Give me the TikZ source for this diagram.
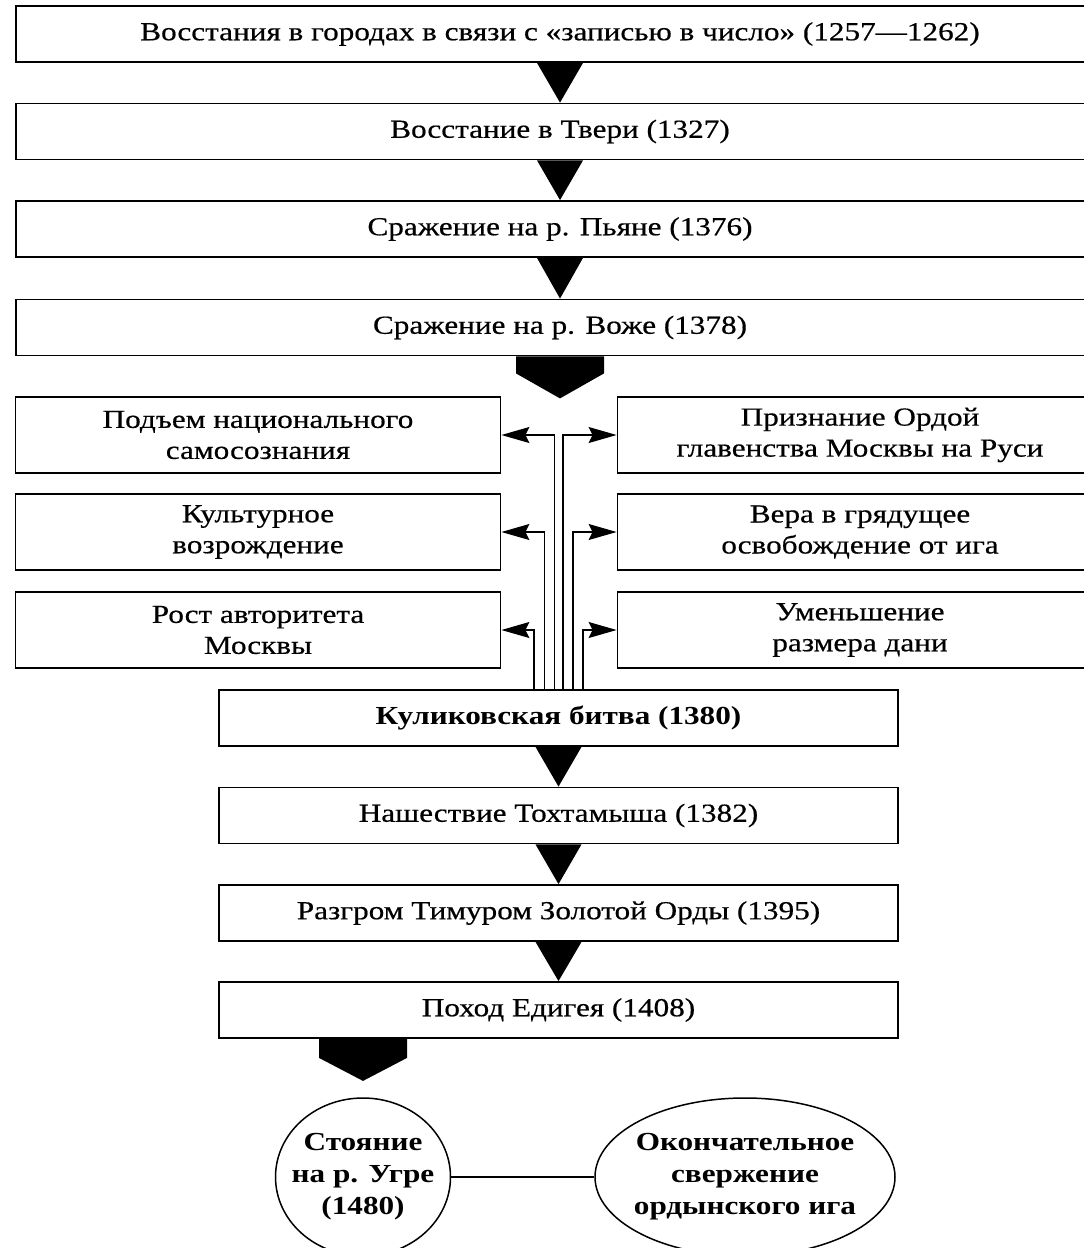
\documentclass[tikz,border=0pt]{standalone}
\usepackage{fontspec}
\setmainfont[FakeStretch=1.2,UprightFeatures={FakeBold=0.5}]{Liberation Serif}
\usetikzlibrary{arrows.meta,shapes.geometric}

\begin{document}
\begin{tikzpicture}[x=1pt,y=-1pt,font=\fontsize{26}{31}\selectfont,
  event/.style={draw,line width=1.8pt,inner sep=0pt,minimum height=56pt,align=center},
  wide/.style={event,minimum width=1088pt},
  mid/.style={event,minimum width=679pt},
  side/.style={event,minimum width=485pt,minimum height=76pt},
  oval/.style={draw,ellipse,line width=1.5pt,inner ysep=0pt,inner xsep=-12pt,minimum height=158pt,align=center,
    font=\fontsize{26}{32}\selectfont\bfseries},
  link/.style={line width=1.3pt,-{Stealth[length=28pt,width=16pt,inset=4pt]}}]

\clip (0,0) rectangle (1084,1248);

% chain of events up to 1378
\node[wide] (zapis) at (560,34) {Восстания в городах в связи с «записью в число» (1257—1262)};
\node[wide] (tver) at (560,131.5) {Восстание в Твери (1327)};
\node[wide] (pyana) at (560,229) {Сражение на р. Пьяне (1376)};
\node[wide] (vozha) at (560,327.5) {Сражение на р. Воже (1378)};

\fill (zapis.south) ++(-23,0) -- ++(46,0) -- (tver.north) -- cycle;
\fill (tver.south) ++(-23,0) -- ++(46,0) -- (pyana.north) -- cycle;
\fill (pyana.south) ++(-23,0) -- ++(46,0) -- (vozha.north) -- cycle;
\fill (vozha.south) ++(-44,0) -- ++(88,0) -- ++(0,17) -- ++(-44,25) -- ++(-44,-25) -- cycle;

% results of the battle
\node[side] (samo) at (258,435) {Подъем национального\\самосознания};
\node[side] (kult) at (258,532) {Культурное\\возрождение};
\node[side] (avt) at (258,630) {Рост авторитета\\Москвы};
\node[side] (priz) at (860,435) {Признание Ордой\\главенства Москвы на Руси};
\node[side] (vera) at (860,532) {Вера в грядущее\\освобождение от ига};
\node[side] (dan) at (860,630) {Уменьшение\\размера дани};

% after 1380
\node[mid,font=\fontsize{26}{31}\selectfont\bfseries] (kulik) at (558.5,718) {Куликовская битва (1380)};
\node[mid] (toht) at (558.5,815.5) {Нашествие Тохтамыша (1382)};
\node[mid] (timur) at (558.5,913) {Разгром Тимуром Золотой Орды (1395)};
\node[mid] (edigei) at (558.5,1010) {Поход Едигея (1408)};

\draw[link] ([xshift=-4pt]kulik.north) |- (samo.east);
\draw[link] ([xshift=-14pt]kulik.north) |- (kult.east);
\draw[link] ([xshift=-24.5pt]kulik.north) |- (avt.east);
\draw[link] ([xshift=4.5pt]kulik.north) |- (priz.west);
\draw[link] ([xshift=14.5pt]kulik.north) |- (vera.west);
\draw[link] ([xshift=24.5pt]kulik.north) |- (dan.west);

\fill (kulik.south) ++(-23,0) -- ++(46,0) -- (toht.north) -- cycle;
\fill (toht.south) ++(-23,0) -- ++(46,0) -- (timur.north) -- cycle;
\fill (timur.south) ++(-23,0) -- ++(46,0) -- (edigei.north) -- cycle;

\node[oval,minimum width=175pt,inner xsep=-16pt] (ugra) at (363,1177) {Стояние\\на р. Угре\\(1480)};
\node[oval,minimum width=300pt] (igo) at (745,1177) {Окончательное\\свержение\\ордынского ига};

\fill (edigei.south -| ugra) ++(-44,0) -- ++(88,0) -- ++(0,19) -- ++(-44,23) -- ++(-44,-23) -- cycle;
\draw[line width=1.5pt] (ugra) -- (igo);

\end{tikzpicture}
\end{document}
